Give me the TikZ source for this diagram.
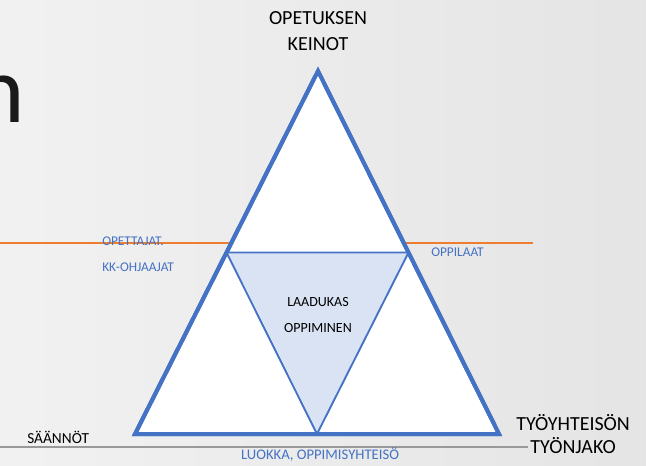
\documentclass[tikz,border=0pt]{standalone}
\usepackage{fontspec}
\setmainfont{Carlito}
\usetikzlibrary{calc}
\definecolor{triblue}{HTML}{4472C4}
\definecolor{trifill}{HTML}{DAE3F3}
\definecolor{lineorange}{HTML}{ED7D31}
\definecolor{slidebg}{HTML}{EEEEEE}
\begin{document}
\begin{tikzpicture}[
    x=0.75pt, y=-0.75pt,
    corner/.style={font=\fontsize{15}{17}\selectfont, align=center, text=black, inner sep=0pt},
    bluelabel/.style={font=\fontsize{10}{12}\selectfont, text=triblue, inner sep=0pt},
    inlabel/.style={font=\fontsize{10.5}{19}\selectfont, align=center, text=black, inner sep=0pt},
    outer/.style={draw=triblue, line width=3pt, fill=white, line join=miter},
    inner/.style={draw=triblue, line width=1.4pt, fill=trifill, line join=miter}
]
    % background of the slide
    \useasboundingbox (0,0) rectangle (646,465);
    \shade[left color=slidebg!80!white, right color=slidebg!96!black] (0,0) rectangle (646,465);

    % end of the slide title
    \node[anchor=base east, inner sep=0pt, text=black!90, font=\fontsize{72}{80}\selectfont] (title) at (25,122) {n};

    % guide lines
    \coordinate (orangeL) at (0,243);
    \coordinate (orangeR) at (533,243);
    \coordinate (greyL) at (0,447);
    \coordinate (greyR) at (528,447);
    \draw[lineorange, line width=1.4pt] (orangeL) -- (orangeR);
    \draw[gray!80, line width=1.4pt] (greyL) -- (greyR);

    % triangles
    \coordinate (top) at (318,71);
    \coordinate (left) at (135,434);
    \coordinate (right) at (499,434);
    \coordinate (midL) at ($(top)!0.5!(left)$);
    \coordinate (midR) at ($(top)!0.5!(right)$);
    \coordinate (midB) at ($(left)!0.5!(right)$);
    \draw[outer] (top) -- (left) -- (right) -- cycle;
    \draw[inner] (midL) -- (midR) -- (midB) -- cycle;
    \draw[outer, fill=none] (top) -- (left) -- (right) -- cycle;

    % labels
    \node[corner] (keinot) at (318,31) {OPETUKSEN\\[2pt]KEINOT};
    \node[corner, anchor=west] (tyonjako) at (516,434) {TYÖYHTEISÖN\\TYÖNJAKO};
    \node[inlabel, anchor=west, font=\fontsize{11.5}{19}\selectfont] (saannot) at (27,437) {SÄÄNNÖT};
    \node[inlabel] (laadukas) at (318,315) {LAADUKAS\\OPPIMINEN};
    \node[bluelabel, anchor=west] (opettajat) at (102,241) {OPETTAJAT.};
    \node[bluelabel, anchor=west] (ohjaajat) at (102,267) {KK-OHJAAJAT};
    \node[bluelabel, anchor=west] (oppilaat) at (431,252) {OPPILAAT};
    \node[bluelabel, font=\fontsize{11}{13}\selectfont] (luokka) at (320,455) {LUOKKA, OPPIMISYHTEISÖ};
\end{tikzpicture}
\end{document}
